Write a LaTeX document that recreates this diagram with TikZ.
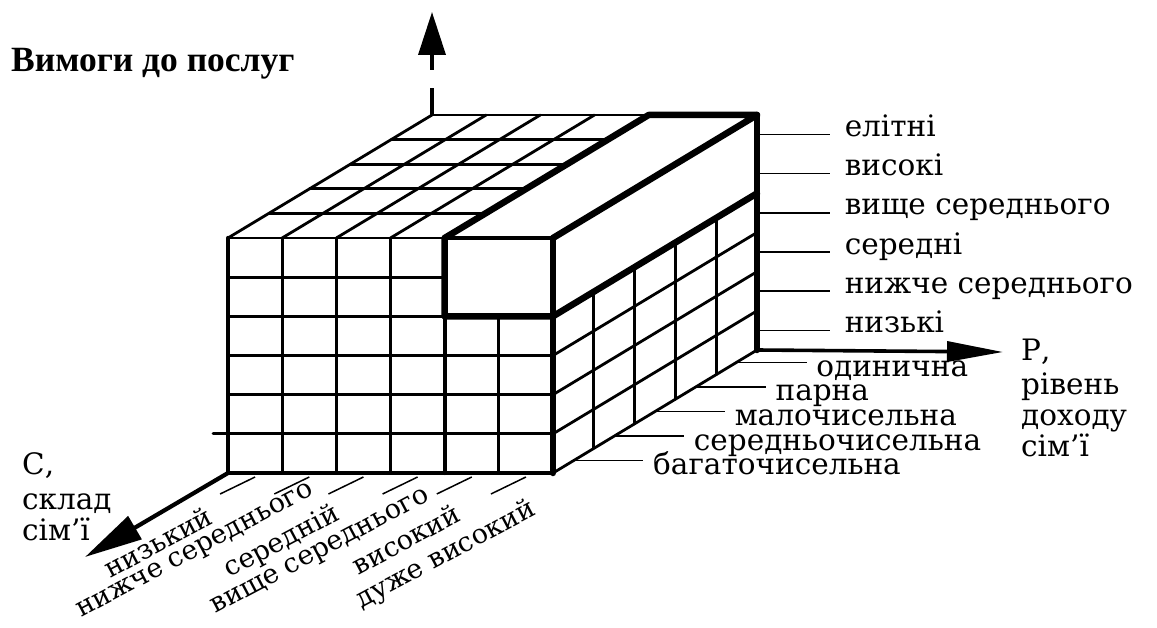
\documentclass[tikz,border=0pt]{standalone}
\usepackage{fontspec}
\setmainfont{DejaVu Serif}
\newfontfamily\headfont{Liberation Serif}
\usetikzlibrary{arrows.meta}

% point of the block: column, row (from the bottom), depth
\newcommand\cubept[3]{({228+(#1)*54.17+(#3)*40.8},{473-(#2)*39.17-(#3)*24.6})}

\begin{document}
\begin{tikzpicture}[x=1pt,y=-1pt,
  grid/.style={line width=2.8pt, line cap=round, line join=round},
  edge/.style={line width=4.2pt, line cap=round, line join=round},
  heavy/.style={line width=6.5pt, line cap=round, line join=round},
  tick/.style={line width=1.5pt},
  axis/.style={line width=3.6pt},
  lbl/.style={font=\fontsize{29.5}{34}\selectfont, inner sep=0pt},
  slant/.style={font=\fontsize{27}{31}\selectfont, inner sep=0pt, rotate=28},
  ttl/.style={font=\headfont\bfseries\fontsize{35.5}{40}\selectfont, inner sep=0pt}
]
\useasboundingbox (0,0) rectangle (1157,628);

% ---------- front face ----------
\foreach \c in {1,2,3} \draw[grid] \cubept{\c}{0}{0} -- \cubept{\c}{6}{0};
\draw[edge] \cubept{4}{0}{0} -- \cubept{4}{4}{0};
\draw[grid] \cubept{5}{0}{0} -- \cubept{5}{4}{0};
\foreach \r in {1,2,3} \draw[grid] \cubept{0}{\r}{0} -- \cubept{6}{\r}{0};
\draw[grid] \cubept{0}{4}{0} -- \cubept{4}{4}{0};
\draw[grid] \cubept{0}{5}{0} -- \cubept{4}{5}{0};
\draw[grid] (213,{473-39.17}) -- \cubept{0}{1}{0};
\draw[edge] \cubept{0}{0}{0} -- \cubept{6}{0}{0};
\draw[edge] \cubept{0}{0}{0} -- \cubept{0}{6}{0};

% ---------- top face ----------
\foreach \k in {1,...,4} \draw[grid] \cubept{0}{6}{\k} -- \cubept{4}{6}{\k};
\draw[grid] \cubept{0}{6}{0} -- \cubept{4}{6}{0};
\draw[grid] \cubept{0}{6}{5} -- \cubept{4}{6}{5};
\foreach \c in {0,...,3} \draw[grid] \cubept{\c}{6}{0} -- \cubept{\c}{6}{5};

% ---------- right face ----------
\foreach \k in {1,...,4} \draw[grid] \cubept{6}{0}{\k} -- \cubept{6}{4}{\k};
\foreach \r in {1,2,3} \draw[grid] \cubept{6}{\r}{0} -- \cubept{6}{\r}{5};
\draw[grid] \cubept{6}{0}{0} -- \cubept{6}{0}{5};

% ---------- highlighted block ----------
\draw[heavy] \cubept{4}{6}{0} -- \cubept{4}{4}{0} -- \cubept{6}{4}{0} -- \cubept{6}{4}{5};
\draw[edge] \cubept{4}{6}{0} -- \cubept{6}{6}{0};
\draw[heavy] \cubept{4}{6}{0} -- \cubept{4}{6}{5} -- \cubept{6}{6}{5} -- \cubept{6}{6}{0};
\draw[heavy] \cubept{6}{0}{0} -- \cubept{6}{6}{0};
\draw[heavy] \cubept{6}{0}{5} -- \cubept{6}{6}{5};

% ---------- axes ----------
\path \cubept{0}{6}{5} coordinate (vbase) \cubept{0}{0}{0} coordinate (corig)
      \cubept{6}{0}{5} coordinate (porig);
\coordinate (vgap1) at (432,88);
\coordinate (vgap2) at (432,70);
\coordinate (vtip) at (432,12);
\coordinate (ptip) at (1003,352);
\coordinate (ctip) at (85,557);
\draw[axis] (vbase) -- (vgap1);
\draw[axis, -{Triangle[length=43pt,width=27pt]}] (vgap2) -- (vtip);
\draw[axis, -{Triangle[length=56pt,width=20pt]}] (porig) -- (ptip);
\draw[line width=4.2pt, -{Triangle[length=58pt,width=26pt]}] (corig) -- (ctip);

% ---------- title ----------
\node[ttl, anchor=base west] (title) at (11,72) {Вимоги до послуг};

% ---------- service levels ----------
\foreach \j/\txt in {0/низькі, 1/нижче середнього, 2/середні,
                     3/вище середнього, 4/високі, 5/елітні}
  \draw[tick] \cubept{6}{\j+0.5}{5} coordinate (rt\j) -- ++(73,0) coordinate (re\j)
    node[lbl, anchor=base west, xshift=14pt, yshift=-2pt] (r\j) {\txt};

% ---------- family size ----------
\foreach \k/\txt in {0/багаточисельна, 1/середньочисельна, 2/малочисельна,
                     3/парна, 4/одинична}
  \draw[tick] \cubept{6}{0}{\k+0.5} coordinate (dt\k) -- ++(70,0) coordinate (de\k)
    node[lbl, anchor=base west, xshift=9pt, yshift=-14pt] (d\k) {\txt};

% ---------- income ----------
\foreach \c in {0,...,5}
  \draw[tick] ({228+(\c+0.5)*54.17},477) coordinate (ct\c) -- ++(-35,17) coordinate (ce\c);
\node[slant] (c0) at (158,542) {низький};
\node[slant] (c1) at (196,552) {нижче середнього};
\node[slant] (c2) at (282,542) {середній};
\node[slant] (c3) at (321,553) {вище середнього};
\node[slant] (c4) at (406,539) {високий};
\node[slant] (c5) at (446,555) {дуже високий};

% ---------- axis names ----------
\node[lbl, anchor=base west] (pa) at (1021,361) {Р,};
\node[lbl, anchor=base west] (pb) at (1021,394) {рівень};
\node[lbl, anchor=base west] (pc) at (1021,425) {доходу};
\node[lbl, anchor=base west] (pd) at (1021,456) {сім'ї};

\node[lbl, anchor=base west] (ca) at (22,474) {С,};
\node[lbl, anchor=base west] (cb) at (22,509) {склад};
\node[lbl, anchor=base west] (cc) at (22,540) {сім'ї};
\end{tikzpicture}
\end{document}
